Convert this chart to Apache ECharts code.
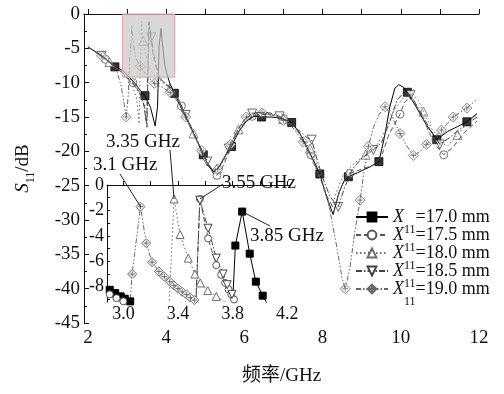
<!DOCTYPE html>
<html>
<head>
<meta charset="utf-8">
<script src="https://cdn.jsdelivr.net/npm/echarts@6/dist/echarts.min.js"></script>
<style>
  html, body { margin: 0; background: #fff; }
  #main { width: 504px; height: 394px; }
</style>
</head>
<body>
<div id="main"></div>
<script>
// S11 curves, [GHz, dB]
var s17_0 = [[2.0,-4.8],[2.2,-5.5],[2.4,-6.3],[2.69,-7.7],[2.90,-8.24],[2.94,-8.5],[2.98,-8.76],[3.01,-8.94],[3.05,-9.15],[3.2,-10.1],[3.35,-11.2],[3.46,-11.9],[3.6,-13.6],[3.72,-16.3],[3.78,-13.5],[3.80,-9.25],[3.82,-4.76],[3.87,-2.09],[3.925,-5.4],[3.97,-7.6],[4.02,-8.7],[4.1,-10.2],[4.21,-11.55],[4.4,-13.8],[4.6,-16.2],[4.8,-18.6],[4.95,-20.5],[5.1,-22.3],[5.22,-23.0],[5.35,-22.3],[5.5,-20.8],[5.67,-19.3],[5.85,-17.2],[6.05,-15.6],[6.25,-14.9],[6.44,-15.0],[6.7,-15.0],[6.95,-15.2],[7.21,-15.8],[7.4,-17.2],[7.6,-19.4],[7.8,-21.7],[7.93,-23.3],[8.1,-26.6],[8.27,-29.2],[8.42,-26.0],[8.55,-24.3],[8.66,-23.7],[8.9,-23.1],[9.2,-22.3],[9.44,-21.5],[9.58,-18.0],[9.72,-13.5],[9.85,-10.8],[9.95,-10.3],[10.05,-10.6],[10.17,-11.4],[10.4,-13.6],[10.65,-16.1],[10.92,-18.3],[11.2,-17.1],[11.45,-16.4],[11.69,-15.7],[11.95,-14.5]];
var s17_5 = [[2.0,-4.8],[2.2,-5.6],[2.4,-6.4],[2.6,-7.3],[2.8,-8.2],[2.9,-8.6],[2.95,-8.9],[3.0,-9.15],[3.15,-10.0],[3.3,-11.2],[3.42,-13.0],[3.5,-16.0],[3.53,-9.4],[3.56,-1.1],[3.62,-4.2],[3.68,-6.3],[3.716,-7.06],[3.745,-7.7],[3.77,-8.2],[3.79,-8.6],[3.81,-9.0],[3.84,-9.3],[3.95,-10.0],[4.1,-10.6],[4.3,-12.2],[4.5,-14.8],[4.7,-17.3],[4.9,-19.8],[5.05,-21.6],[5.2,-23.2],[5.3,-23.5],[5.42,-22.6],[5.6,-20.2],[5.8,-17.6],[6.0,-15.8],[6.2,-14.9],[6.4,-14.6],[6.7,-14.7],[7.0,-15.2],[7.25,-16.1],[7.5,-18.2],[7.7,-20.5],[7.9,-23.3],[8.1,-26.4],[8.3,-28.5],[8.45,-25.5],[8.6,-23.8],[8.7,-23.2],[9.0,-22.6],[9.3,-22.0],[9.5,-20.8],[9.7,-17.5],[9.98,-14.6],[10.1,-12.8],[10.22,-12.2],[10.35,-12.8],[10.6,-15.6],[10.85,-18.8],[11.1,-20.5],[11.35,-19.3],[11.6,-17.4],[11.95,-15.6]];
var s18_0 = [[2.0,-4.8],[2.2,-5.5],[2.4,-6.3],[2.6,-7.2],[2.8,-8.1],[3.0,-9.3],[3.15,-10.5],[3.25,-12.5],[3.31,-16.0],[3.334,-9.5],[3.371,-1.1],[3.415,-3.9],[3.475,-5.75],[3.524,-7.0],[3.563,-7.7],[3.618,-8.3],[3.68,-8.76],[3.75,-9.25],[3.9,-9.9],[4.1,-10.8],[4.3,-12.4],[4.5,-14.9],[4.7,-17.4],[4.9,-19.9],[5.05,-21.6],[5.18,-22.7],[5.3,-22.5],[5.45,-21.2],[5.65,-19.0],[5.85,-16.8],[6.05,-15.2],[6.25,-14.5],[6.45,-14.4],[6.7,-14.6],[7.0,-15.3],[7.25,-16.3],[7.45,-17.8],[7.68,-19.6],[7.9,-22.5],[8.05,-25.5],[8.2,-28.8],[8.35,-26.0],[8.55,-23.2],[8.8,-21.8],[9.1,-20.5],[9.35,-19.5],[9.6,-17.0],[9.85,-13.8],[10.1,-12.0],[10.3,-11.6],[10.45,-12.6],[10.58,-14.2],[10.8,-16.8],[11.05,-18.8],[11.2,-19.2],[11.45,-17.6],[11.7,-15.9],[11.95,-14.6]];
var s18_5 = [[2.0,-4.8],[2.2,-5.5],[2.35,-6.1],[2.6,-7.2],[2.8,-8.2],[3.0,-9.3],[3.2,-10.5],[3.35,-11.8],[3.45,-13.5],[3.51,-16.5],[3.53,-9.5],[3.56,-1.2],[3.62,-3.4],[3.68,-5.75],[3.73,-7.0],[3.76,-7.84],[3.795,-8.6],[3.83,-9.3],[3.95,-10.0],[4.1,-10.8],[4.3,-12.3],[4.5,-14.7],[4.7,-17.2],[4.9,-19.7],[5.05,-21.5],[5.17,-22.6],[5.28,-22.8],[5.42,-21.8],[5.6,-19.6],[5.8,-17.2],[6.0,-15.4],[6.2,-14.5],[6.4,-14.3],[6.65,-14.4],[6.9,-14.9],[7.15,-15.9],[7.4,-17.0],[7.6,-18.0],[7.72,-18.3],[7.85,-21.0],[8.0,-23.8],[8.19,-26.6],[8.4,-28.1],[8.55,-25.5],[8.75,-22.7],[9.0,-21.0],[9.3,-19.8],[9.5,-18.8],[9.7,-16.0],[9.9,-12.6],[10.08,-11.4],[10.25,-11.8],[10.5,-14.2],[10.75,-16.8],[11.0,-19.0],[11.25,-18.0],[11.5,-16.8],[11.75,-15.8],[11.95,-15.0]];
var s19_0 = [[2.0,-4.8],[2.2,-5.5],[2.35,-6.1],[2.6,-7.2],[2.75,-8.5],[2.85,-10.5],[2.93,-13.2],[2.98,-15.0],[3.03,-12.0],[3.064,-7.0],[3.125,-1.7],[3.167,-4.57],[3.21,-6.07],[3.26,-6.8],[3.3,-7.2],[3.34,-7.6],[3.37,-7.9],[3.40,-8.15],[3.43,-8.4],[3.46,-8.6],[3.49,-8.85],[3.52,-9.05],[3.55,-9.25],[3.7,-10.1],[3.9,-10.7],[4.1,-11.4],[4.3,-12.8],[4.5,-15.0],[4.7,-17.5],[4.9,-19.9],[5.05,-21.7],[5.2,-22.8],[5.32,-22.6],[5.48,-21.2],[5.65,-19.0],[5.85,-16.6],[6.05,-15.0],[6.25,-14.4],[6.45,-14.4],[6.7,-14.7],[7.0,-15.5],[7.25,-16.6],[7.5,-18.6],[7.75,-21.5],[7.95,-24.0],[8.14,-27.1],[8.35,-33.5],[8.5,-38.5],[8.58,-40.0],[8.7,-37.0],[8.83,-31.5],[8.96,-27.1],[9.07,-22.5],[9.17,-19.3],[9.3,-16.5],[9.45,-14.6],[9.6,-13.5],[9.75,-14.6],[9.98,-17.4],[10.15,-19.2],[10.32,-20.6],[10.5,-20.0],[10.66,-19.0],[10.85,-18.0],[11.04,-16.9],[11.2,-15.9],[11.34,-15.0],[11.5,-14.4],[11.69,-13.7],[11.95,-12.4]];

// sparse markers on the main plot
var m17_0 = [[2.69,-7.7],[3.46,-11.9],[4.21,-11.55],[4.95,-20.5],[5.67,-19.3],[6.44,-15.0],[7.21,-15.8],[7.93,-23.3],[8.66,-23.7],[9.44,-21.5],[10.17,-11.4],[10.92,-18.3],[11.69,-15.7]];
var m17_5 = [[2.45,-6.6],[3.15,-10.0],[4.39,-13.4],[5.3,-23.5],[6.2,-14.9],[7.0,-15.2],[7.7,-20.5],[8.7,-23.2],[9.98,-14.6],[11.1,-20.5]];
var m18_0 = [[2.55,-7.0],[3.415,-3.9],[4.1,-10.8],[4.7,-17.4],[5.3,-22.5],[5.85,-16.8],[6.45,-14.4],[7.0,-15.3],[7.68,-19.6],[9.1,-20.5],[10.58,-14.2],[11.45,-17.6]];
var m18_5 = [[2.35,-6.1],[3.62,-3.4],[4.5,-14.7],[5.05,-21.5],[5.6,-19.6],[6.2,-14.5],[6.9,-14.9],[7.72,-18.3],[8.4,-28.1],[9.3,-19.8],[10.25,-11.8],[11.0,-19.0]];
var m19_0 = [[2.35,-6.1],[2.98,-15.0],[3.34,-7.6],[3.7,-10.1],[4.1,-11.4],[4.5,-15.0],[4.9,-19.9],[5.32,-22.6],[5.65,-19.0],[6.05,-15.0],[6.45,-14.4],[7.0,-15.5],[7.5,-18.6],[8.58,-40.0],[8.96,-27.1],[9.17,-19.3],[9.6,-13.5],[9.98,-17.4],[10.32,-20.6],[10.66,-19.0],[11.04,-16.9],[11.34,-15.0],[11.69,-13.7]];

var xTicks = [2,3,4,5,6,7,8,9,10,11,12];
var xLabels = [2,4,6,8,10,12];
var insetX = [2.88, 4.22];
var insetY = [-9.2, 0];
var insetXTicks = [3.0,3.2,3.4,3.6,3.8,4.0,4.2];
var insetXLabels = [3.0,3.4,3.8,4.2];
var insetYTicks = [0,-1,-2,-3,-4,-5,-6,-7,-8,-9];
var insetYLabels = [0,-2,-4,-6,-8];

var notes = [
  {text:'3.1 GHz',  at:[3.125,-1.7], pos:[93,165],  from:[120,174]},
  {text:'3.35 GHz', at:[3.371,-1.1], pos:[106,142], from:[170,150]},
  {text:'3.55 GHz', at:[3.56,-1.1],  pos:[222,183], from:[223,184]},
  {text:'3.85 GHz', at:[3.87,-2.09], pos:[250,236], from:[270,226]}
];

var FONT = "'Liberation Serif', 'Noto Sans CJK SC', serif";
var diamondX = 'path://M6,0L12,6L6,12L0,6Z M6,2.5L6,9.5 M2.5,6L9.5,6';
var downTri = 'path://M0,0L10,0L5,9Z';

var curves = [
  {name:'17.0', data:s17_0, marks:m17_0, symbol:'rect',     size:8,  color:'#000', fill:'#000', dash:'solid'},
  {name:'17.5', data:s17_5, marks:m17_5, symbol:'circle',   size:8,  color:'#555', fill:'#fff', dash:[5,3]},
  {name:'18.0', data:s18_0, marks:m18_0, symbol:'triangle', size:9,  color:'#6a6a6a', fill:'#fff', dash:[1.5,2.5]},
  {name:'18.5', data:s18_5, marks:m18_5, symbol:downTri,    size:9,  color:'#444', fill:'#fff', dash:[6,2,1.5,2]},
  {name:'19.0', data:s19_0, marks:m19_0, symbol:diamondX,   size:10, color:'#666', fill:'#fff', dash:[5,2,1.5,2,1.5,2]}
];

var series = [];
curves.forEach(function (c) {
  series.push({
    type:'line', name:c.name, data:c.data, xAxisIndex:0, yAxisIndex:0,
    symbol:c.symbol, symbolSize:c.size, showSymbol:false,
    lineStyle:{color:c.color, width:1, type:c.dash},
    itemStyle:{color:c.fill, borderColor:c.color, borderWidth:1}
  });
});
curves.forEach(function (c) {
  series.push({
    type:'scatter', name:c.name + ' m', data:c.marks, xAxisIndex:0, yAxisIndex:0,
    symbol:c.symbol, symbolSize:c.size,
    itemStyle:{color:c.fill, borderColor:c.color, borderWidth:1}
  });
});
curves.forEach(function (c) {
  series.push({
    type:'line', name:c.name + ' i', data:c.data, xAxisIndex:1, yAxisIndex:1,
    symbol:c.symbol, symbolSize:c.size - 1, showSymbol:true, showAllSymbol:true, clip:true,
    lineStyle:{color:c.color, width:1, type:c.dash},
    itemStyle:{color:c.fill, borderColor:c.color, borderWidth:1}
  });
});
// zoomed window shown in the inset
series.push({
  type:'line', name:'box', data:[], xAxisIndex:0, yAxisIndex:0, z:5,
  markArea:{
    silent:true, z:5,
    itemStyle:{color:'rgba(200,200,200,0.7)', borderColor:'#e3a0a0', borderWidth:1},
    data:[[{coord:[insetX[0], insetY[1]]}, {coord:[insetX[1], insetY[0]]}]]
  }
});

var axisLine = {show:true, lineStyle:{color:'#111', width:1}};
var labelStyle = {color:'#111', fontFamily:FONT};

var chart = echarts.init(document.getElementById('main'));
chart.setOption({
  animation:false,
  backgroundColor:'#fff',
  grid:[
    {left:84, top:14, width:395, height:309},
    {left:107, top:185, width:183, height:117}
  ],
  legend:{
    data:curves.map(function (c) { return c.name; }),
    orient:'vertical', left:355, top:198, padding:0,
    itemWidth:32, itemHeight:11, itemGap:-20,
    formatter:function (n) { return '{i|X}{s|11}{n|=' + n + ' mm}'; },
    textStyle:{
      color:'#111', fontFamily:FONT,
      rich:{
        i:{fontStyle:'italic', fontSize:18, lineHeight:20, fontFamily:FONT},
        s:{fontSize:12, lineHeight:14, padding:[26,0,0,0], fontFamily:FONT},
        n:{fontSize:18, lineHeight:20, fontFamily:FONT}
      }
    }
  },
  xAxis:[
    {
      type:'value', gridIndex:0, min:1.9, max:12,
      name:'频率/GHz', nameLocation:'middle', nameGap:44,
      nameTextStyle:{fontSize:19, color:'#111', fontFamily:FONT},
      axisLine:axisLine, splitLine:{show:false},
      axisTick:{inside:true, length:5, customValues:xTicks, lineStyle:{color:'#111'}},
      axisLabel:Object.assign({fontSize:19, margin:6, customValues:xLabels}, labelStyle)
    },
    {
      type:'value', gridIndex:1, min:insetX[0], max:insetX[1],
      axisLine:axisLine, splitLine:{show:false},
      axisTick:{inside:true, length:4, customValues:insetXTicks, lineStyle:{color:'#111'}},
      axisLabel:Object.assign({fontSize:18, margin:3, customValues:insetXLabels,
        formatter:function (v) { return v.toFixed(1); }}, labelStyle)
    }
  ],
  yAxis:[
    {
      type:'value', gridIndex:0, min:-45, max:0, interval:5,
      name:'{i|S}{s|11}{n|/dB}', nameLocation:'middle', nameRotate:90, nameGap:50,
      nameTextStyle:{
        color:'#111', fontFamily:FONT,
        rich:{
          i:{fontStyle:'italic', fontSize:19, lineHeight:22, fontFamily:FONT},
          s:{fontSize:12, lineHeight:14, padding:[15,0,0,0], fontFamily:FONT},
          n:{fontSize:19, lineHeight:22, fontFamily:FONT}
        }
      },
      axisLine:axisLine, splitLine:{show:false},
      axisTick:{inside:true, length:5, lineStyle:{color:'#111'}},
      minorTick:{show:true, splitNumber:2, length:3, lineStyle:{color:'#111'}},
      axisLabel:Object.assign({fontSize:19, margin:4}, labelStyle)
    },
    {
      type:'value', gridIndex:1, min:insetY[0], max:insetY[1],
      axisLine:axisLine, splitLine:{show:false},
      axisTick:{inside:true, length:3, customValues:insetYTicks, lineStyle:{color:'#111'}},
      axisLabel:Object.assign({fontSize:18, margin:3, customValues:insetYLabels}, labelStyle)
    }
  ],
  series:series
});

// frequency call-outs pointing at the inset peaks
var graphics = [];
notes.forEach(function (n) {
  var p = chart.convertToPixel({gridIndex:1}, n.at);
  graphics.push({
    type:'line', z:20,
    shape:{x1:n.from[0], y1:n.from[1], x2:p[0], y2:p[1]},
    style:{stroke:'#222', lineWidth:1}
  });
  graphics.push({
    type:'text', z:21, x:n.pos[0], y:n.pos[1],
    style:{text:n.text, fill:'#111', font:'19px ' + FONT, verticalAlign:'middle', align:'left'}
  });
});
chart.setOption({graphic:graphics});
</script>
</body>
</html>
